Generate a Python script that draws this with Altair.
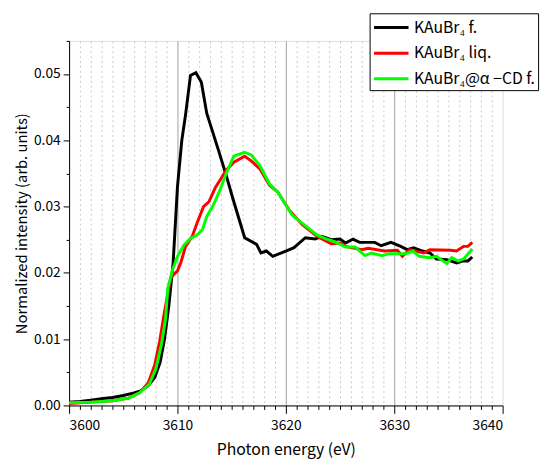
import altair as alt
import pandas as pd

# Series names
names = ["KAuBr₄ f.", "KAuBr₄ liq.", "KAuBr₄@α −CD f."]
colors = ["#000000", "#ff0000", "#00ff00"]

# KAuBr4 f. (black)
e_film = [3600.0, 3601.0, 3602.0, 3603.0, 3604.0, 3605.0, 3606.0, 3606.6, 3607.3, 3607.9,
          3608.4, 3608.8, 3609.2, 3609.6, 3610.0, 3610.4, 3610.75, 3611.2, 3611.7, 3612.2,
          3612.7, 3613.8, 3614.5, 3615.15, 3616.2, 3617.3, 3617.7, 3618.2, 3618.8, 3620.0,
          3620.75, 3621.8, 3622.7, 3623.3, 3624.2, 3625.0, 3625.5, 3626.2, 3626.8, 3628.2,
          3628.8, 3629.7, 3630.6, 3631.2, 3631.8, 3632.6, 3633.3, 3633.9, 3634.85, 3635.75,
          3636.35, 3636.8, 3637.2]
i_film = [0.0005, 0.0006, 0.0008, 0.0010, 0.0012, 0.0015, 0.0019, 0.0022, 0.0030, 0.0042,
          0.0065, 0.0100, 0.0150, 0.0215, 0.0330, 0.0400, 0.0439, 0.0498, 0.0502, 0.0488,
          0.0441, 0.0384, 0.0347, 0.0310, 0.0253, 0.0243, 0.0230, 0.0233, 0.0225, 0.0233,
          0.0238, 0.0253, 0.0251, 0.0255, 0.0250, 0.0251, 0.0245, 0.0251, 0.0246, 0.0246,
          0.0241, 0.0246, 0.0240, 0.0235, 0.0238, 0.0233, 0.0230, 0.0221, 0.0220, 0.0215,
          0.0218, 0.0218, 0.0224]

# KAuBr4 liq. (red)
e_liq = [3600.0, 3602.0, 3604.0, 3605.5, 3606.5, 3607.3, 3607.9, 3608.35, 3608.8, 3609.25,
         3609.4, 3610.0, 3610.3, 3610.75, 3611.36, 3611.8, 3612.4, 3612.9, 3613.5, 3614.2,
         3614.5, 3615.2, 3616.2, 3616.8, 3617.6, 3618.5, 3619.25, 3620.3, 3621.5, 3622.9,
         3624.2, 3625.0, 3625.5, 3627.0, 3627.6, 3629.1, 3630.3, 3630.75, 3631.4, 3632.7,
         3633.3, 3635.2, 3635.75, 3636.4, 3636.8, 3637.2]
i_liq = [0.0003, 0.0005, 0.0007, 0.0011, 0.0019, 0.0034, 0.0061, 0.0096, 0.0141, 0.0181,
         0.0193, 0.0203, 0.0215, 0.0240, 0.0255, 0.0275, 0.0300, 0.0307, 0.0329, 0.0347,
         0.0355, 0.0367, 0.0376, 0.0369, 0.0357, 0.0332, 0.0322, 0.0295, 0.0273, 0.0255,
         0.0244, 0.0245, 0.0240, 0.0235, 0.0237, 0.0233, 0.0234, 0.0225, 0.0235, 0.0230,
         0.0235, 0.0234, 0.0233, 0.0240, 0.0240, 0.0246]

# KAuBr4@a-CD f. (green)
e_cd = [3600.0, 3602.0, 3604.0, 3605.5, 3606.5, 3607.4, 3608.0, 3608.5, 3608.9, 3609.1,
        3609.55, 3610.0, 3610.6, 3611.2, 3611.8, 3612.3, 3612.7, 3613.3, 3613.9, 3614.5,
        3615.2, 3616.2, 3616.8, 3617.6, 3618.5, 3619.25, 3620.6, 3621.5, 3622.9, 3623.6,
        3624.5, 3625.5, 3626.4, 3627.3, 3627.9, 3628.9, 3629.5, 3631.1, 3631.7, 3632.3,
        3633.3, 3633.9, 3634.85, 3635.3, 3635.9, 3636.4, 3637.2]
i_cd = [0.0004, 0.0005, 0.0007, 0.0011, 0.0019, 0.0032, 0.0055, 0.0090, 0.0130, 0.0176,
        0.0205, 0.0225, 0.0242, 0.0252, 0.0257, 0.0265, 0.0285, 0.0302, 0.0324, 0.0350,
        0.0376, 0.0382, 0.0378, 0.0362, 0.0334, 0.0322, 0.0287, 0.0275, 0.0257, 0.0252,
        0.0247, 0.0239, 0.0239, 0.0226, 0.0230, 0.0226, 0.0229, 0.0229, 0.0233, 0.0225,
        0.0223, 0.0225, 0.0214, 0.0223, 0.0218, 0.0221, 0.0236]

x_major = [3600, 3610, 3620, 3630, 3640]
x_minor = [v for v in range(3601, 3640) if v % 10 != 0]
y_major = [0.0, 0.01, 0.02, 0.03, 0.04, 0.05]
y_minor = [0.005, 0.015, 0.025, 0.035, 0.045, 0.055]

rows = []
for k, (es, ys) in enumerate([(e_film, i_film), (e_liq, i_liq), (e_cd, i_cd)]):
    for j, (e, y) in enumerate(zip(es, ys)):
        rows.append({"E": e, "I": y, "s": names[k], "o": j})
df = pd.DataFrame(rows)

FONT = "Noto Sans CJK JP"
xscale = alt.Scale(domain=[3600, 3640], nice=False, zero=False)
yscale = alt.Scale(domain=[0, 0.055], nice=False)

base = alt.Chart(df)

minor = base.mark_line(opacity=0).encode(
    x=alt.X("E:Q", scale=xscale, axis=alt.Axis(
        orient="bottom", values=x_minor, grid=True, gridDash=[2, 3], gridColor="#c8c8c8",
        gridWidth=1, tickSize=4, tickColor="#000000", labels=False, domain=False, title=None)),
    y=alt.Y("I:Q", scale=yscale, axis=alt.Axis(
        orient="left", values=y_minor, grid=False, tickSize=3, tickColor="#000000",
        labels=False, domain=False, title=None)),
    detail="s:N",
)

main = base.mark_line(strokeWidth=3).encode(
    x=alt.X("E:Q", scale=xscale, axis=alt.Axis(
        orient="bottom", values=x_major, format="d", grid=True,
        gridColor=alt.condition("datum.value == 3600 || datum.value == 3640",
                                alt.value("transparent"), alt.value("#a0a0a0")),
        gridWidth=1, tickSize=8, tickColor="#000000", domainColor="#000000",
        labelFontSize=14, labelFont=FONT, labelColor="#000000", labelPadding=5,
        title="Photon energy (eV)", titleFont=FONT, titleFontSize=16,
        titleFontWeight="normal", titleColor="#000000", titlePadding=10)),
    y=alt.Y("I:Q", scale=yscale, axis=alt.Axis(
        orient="left", values=y_major, format=".2f", grid=False, tickSize=6,
        tickColor="#000000", domainColor="#000000",
        labelFontSize=14, labelFont=FONT, labelColor="#000000", labelPadding=3,
        title="Normalized intensity (arb. units)", titleFont=FONT, titleFontSize=15,
        titleFontWeight="normal", titleColor="#000000", titlePadding=4)),
    color=alt.Color("s:N", sort=names, scale=alt.Scale(domain=names, range=colors),
                    legend=alt.Legend(
                        title=None, orient="none", legendX=305, legendY=-28,
                        symbolType="M-1,0H2.5", symbolStrokeWidth=3, symbolSize=400,
                        labelFont=FONT, labelFontSize=16, labelColor="#000000",
                        labelOffset=19, rowPadding=6, padding=3,
                        strokeColor="#000000", fillColor="#ffffff", labelLimit=300)),
    order="o:Q",
)

chart = alt.layer(minor, main).resolve_axis(x="independent", y="independent").properties(
    width=440, height=370,
    autosize=alt.AutoSizeParams(type="none"),
    padding={"left": 62, "top": 30, "right": 42, "bottom": 53},
).configure_view(stroke=None).configure(background="#ffffff")

chart.save("out.html", embed_options={"renderer": "svg", "actions": False})
